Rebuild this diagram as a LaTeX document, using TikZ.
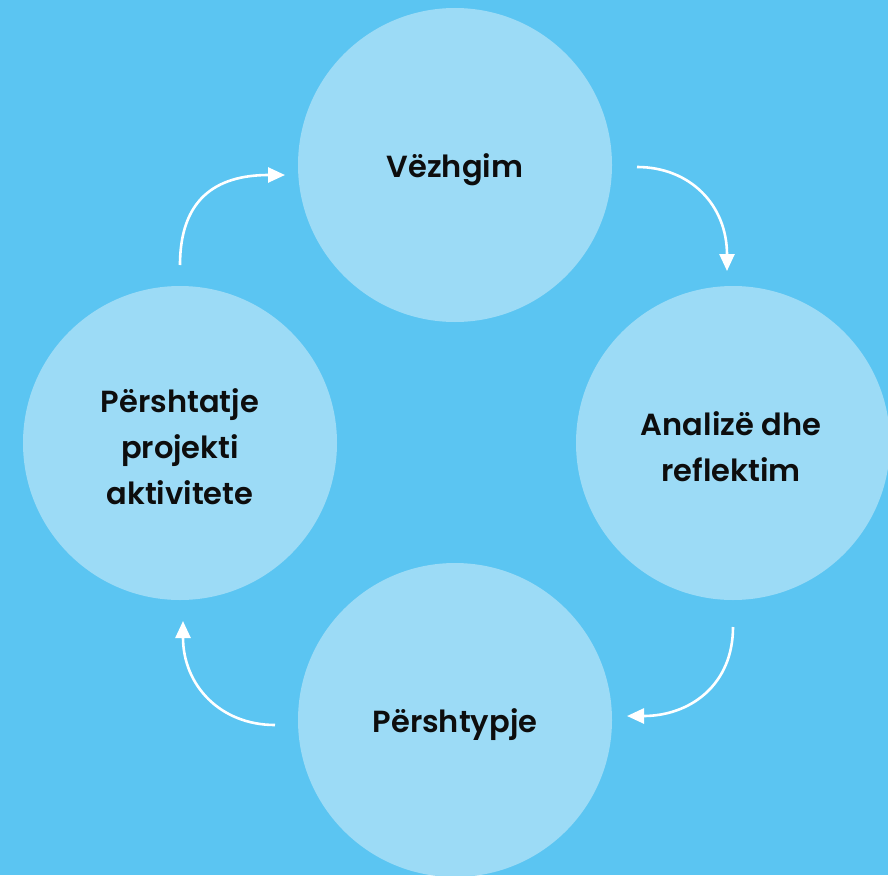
\documentclass[tikz,border=0pt]{standalone}
\usepackage{fontspec}
\setmainfont{Poppins}[BoldFont={Poppins SemiBold}]
\usetikzlibrary{arrows.meta}
\definecolor{bg}{HTML}{5BC5F2}
\definecolor{circ}{HTML}{9CDBF6}
\definecolor{txt}{HTML}{0D0D0D}
\tikzset{
  stage/.style={circle, fill=circ, minimum size=314pt, inner sep=0pt},
  label/.style={align=center, font=\fontsize{30.5}{46}\selectfont\bfseries, text=txt, inner sep=0pt},
  flow/.style={white, line width=2.6pt, -{Triangle[length=17pt,width=15pt]}}
}
\begin{document}
\begin{tikzpicture}[x=1pt,y=-1pt]
\fill[bg] (0,0) rectangle (888,875);
\useasboundingbox (0,0) rectangle (888,875);
\node[stage] (obs) at (455,165) {};
\node[stage] (ana) at (733,443) {};
\node[stage] (imp) at (455,720) {};
\node[stage] (adj) at (180,443) {};
\node[label] (obsT) at ([yshift=-5pt]obs.center) {Vëzhgim};
\node[label] (anaT) at ([xshift=-2pt,yshift=-4pt]ana.center) {Analizë dhe\\reflektim};
\node[label] (impT) at ([yshift=-5pt]imp.center) {Përshtypje};
\node[label] (adjT) at ([yshift=-4pt]adj.center) {Përshtatje\\projekti\\aktivitete};
\coordinate (a1s) at (180,265); \coordinate (a1e) at (285,175);
\coordinate (a2s) at (637,167); \coordinate (a2e) at (727,271);
\coordinate (a3s) at (733,627); \coordinate (a3e) at (627,716);
\coordinate (a4s) at (275,725); \coordinate (a4e) at (183,621);
\draw[flow] (a1s) .. controls (180,200) and (215,175) .. (a1e);
\draw[flow] (a2s) .. controls (690,167) and (727,205) .. (a2e);
\draw[flow] (a3s) .. controls (733,685) and (690,716) .. (a3e);
\draw[flow] (a4s) .. controls (220,725) and (183,685) .. (a4e);
\end{tikzpicture}
\end{document}
